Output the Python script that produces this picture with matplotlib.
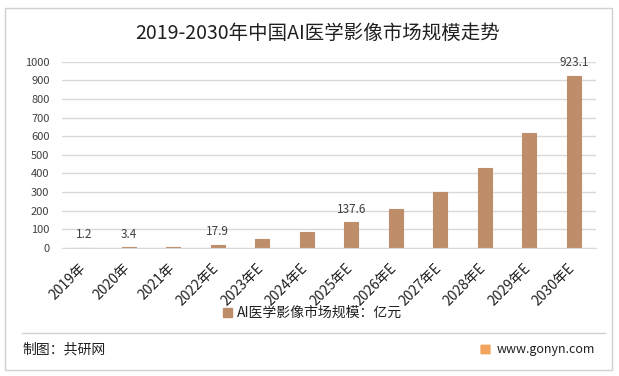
import matplotlib
matplotlib.use('Agg')
import matplotlib.pyplot as plt
import matplotlib.transforms as mtransforms
from matplotlib.patches import Rectangle, FancyBboxPatch
from matplotlib.lines import Line2D

plt.rcParams['font.family'] = ['Noto Sans CJK SC', 'DejaVu Sans']

# данные
years = ['2019年', '2020年', '2021年', '2022年E', '2023年E', '2024年E',
         '2025年E', '2026年E', '2027年E', '2028年E', '2029年E', '2030年E']
values = [1.2, 3.4, 7.0, 17.9, 48.0, 86.0, 137.6, 208.0, 300.0, 428.0, 616.0, 923.1]
shown_labels = {0: '1.2', 1: '3.4', 3: '17.9', 6: '137.6', 11: '923.1'}
yticks = [0, 100, 200, 300, 400, 500, 600, 700, 800, 900, 1000]

bar_color = '#BE8E6B'
grid_color = '#D9D9D9'
text_color = '#404040'

fig = plt.figure(figsize=(6.19, 3.76), dpi=100)
fig.patch.set_facecolor('white')

# рамка и разделитель
fig.add_artist(Rectangle((5 / 619, 1 - 370 / 376), 607 / 619, 362 / 376,
                         transform=fig.transFigure, fill=False,
                         edgecolor='#D0D0D0', linewidth=1.0))
fig.add_artist(Line2D([22 / 619, 605 / 619], [1 - 333 / 376] * 2,
                      transform=fig.transFigure, color='#D0D0D0', linewidth=1.0))

ax = fig.add_axes([62 / 619, 1 - 248 / 376, 534 / 619, (248 - 61.7) / 376])
x = range(len(years))
ax.bar(x, values, width=0.31, color=bar_color, edgecolor=bar_color,
       linewidth=0.8, zorder=3)

for i, lab in shown_labels.items():
    ax.annotate(lab, (i, values[i]), xytext=(0, 9.5), textcoords='offset points',
                ha='center', va='center', fontsize=8.5, color=text_color)

ax.set_ylim(0, 1000)
ax.set_xlim(-0.5, len(years) - 0.5)
ax.set_yticks(yticks)
ax.set_yticklabels([str(v) for v in yticks], fontsize=8, color=text_color)
ax.set_xticks(list(x))
ax.set_xticklabels(years, rotation=45, ha='right', va='top',
                   rotation_mode='anchor', fontsize=10, color='#202020')
ax.tick_params(axis='both', length=0)
ax.tick_params(axis='y', pad=9)
ax.tick_params(axis='x', pad=7)
# сдвиг подписей влево-вниз
shift = mtransforms.ScaledTranslation(-0.06, -0.03, fig.dpi_scale_trans)
for lbl in ax.get_xticklabels():
    lbl.set_transform(lbl.get_transform() + shift)
ax.yaxis.grid(True, color=grid_color, linewidth=1.0, zorder=0)
for s in ['top', 'right', 'left']:
    ax.spines[s].set_visible(False)
ax.spines['bottom'].set_color(grid_color)
ax.spines['bottom'].set_zorder(4)

# легенда
fig.legend(handles=[Rectangle((0, 0), 1, 1, color=bar_color)],
           labels=['AI医学影像市场规模：亿元'], loc='center',
           bbox_to_anchor=(313 / 619, 1 - 313 / 376), frameon=False,
           fontsize=10, handlelength=0.6, handleheight=0.6, handletextpad=0.4,
           labelcolor='#202020')

fig.text(318 / 619, 1 - 33 / 376, '2019-2030年中国AI医学影像市场规模走势',
         ha='center', va='center', fontsize=14, color='#202020')
fig.text(22 / 619, 1 - 349 / 376, '制图：共研网', ha='left', va='center',
         fontsize=10, color='#202020')
fig.add_artist(FancyBboxPatch((481 / 619, 1 - 354 / 376), 9 / 619, 9 / 376,
                              boxstyle='round,pad=0.001', transform=fig.transFigure,
                              facecolor='#F2A35E', edgecolor='none'))
fig.text(595 / 619, 1 - 349 / 376, 'www.gonyn.com', ha='right', va='center',
         fontsize=9, color='#202020')

fig.savefig('out.png', dpi=100)
